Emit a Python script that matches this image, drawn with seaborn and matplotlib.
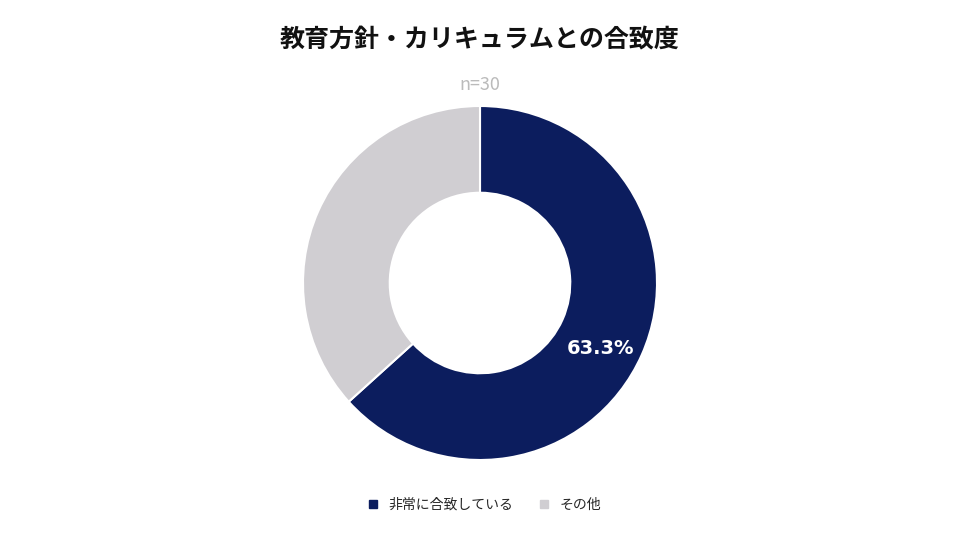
import matplotlib.pyplot as plt
import seaborn as sns
import numpy as np

sns.set_theme(style="white")
plt.rcParams['font.family'] = ['Noto Sans CJK JP', 'DejaVu Sans']

labels = ["非常に合致している", "その他"]
values = [63.3, 36.7]
colors = ["#0C1D5E", "#D0CED2"]

fig = plt.figure(figsize=(9.6, 5.4), dpi=100)
ax = fig.add_axes([(480 - 177) / 960, (540 - 283 - 177) / 540, 354 / 960, 354 / 540])
wedges, _ = ax.pie(values, colors=colors, startangle=90, counterclock=False,
                   wedgeprops=dict(width=0.49, edgecolor="white", linewidth=1.5))
ax.set_xlim(-1, 1)
ax.set_ylim(-1, 1)
ax.set_aspect("equal")

# label on the first wedge
ang = np.deg2rad(90 - values[0] / sum(values) * 360 / 2)
ax.text(0.745 * np.cos(ang), 0.745 * np.sin(ang) - 0.07, f"{values[0]:.1f}%",
        ha="center", va="center", color="white", fontsize=14, fontweight="bold",
        family="DejaVu Sans")

fig.text(0.5, 1 - 40 / 540, "教育方針・カリキュラムとの合致度", ha="center", va="center",
         fontsize=18, fontweight="bold", color="#111111")
fig.text(0.5, 1 - 85 / 540, "n=30", ha="center", va="center", fontsize=13, color="#BBBBBB")

handles = [plt.Line2D([], [], marker="s", linestyle="", color=c, markersize=6) for c in colors]
fig.legend(handles, labels, loc="center", bbox_to_anchor=(0.5, 1 - 505 / 540), ncol=2,
           frameon=False, fontsize=10, handletextpad=0.1, columnspacing=1.2)

fig.savefig("out.png", dpi=100)
plt.close(fig)
